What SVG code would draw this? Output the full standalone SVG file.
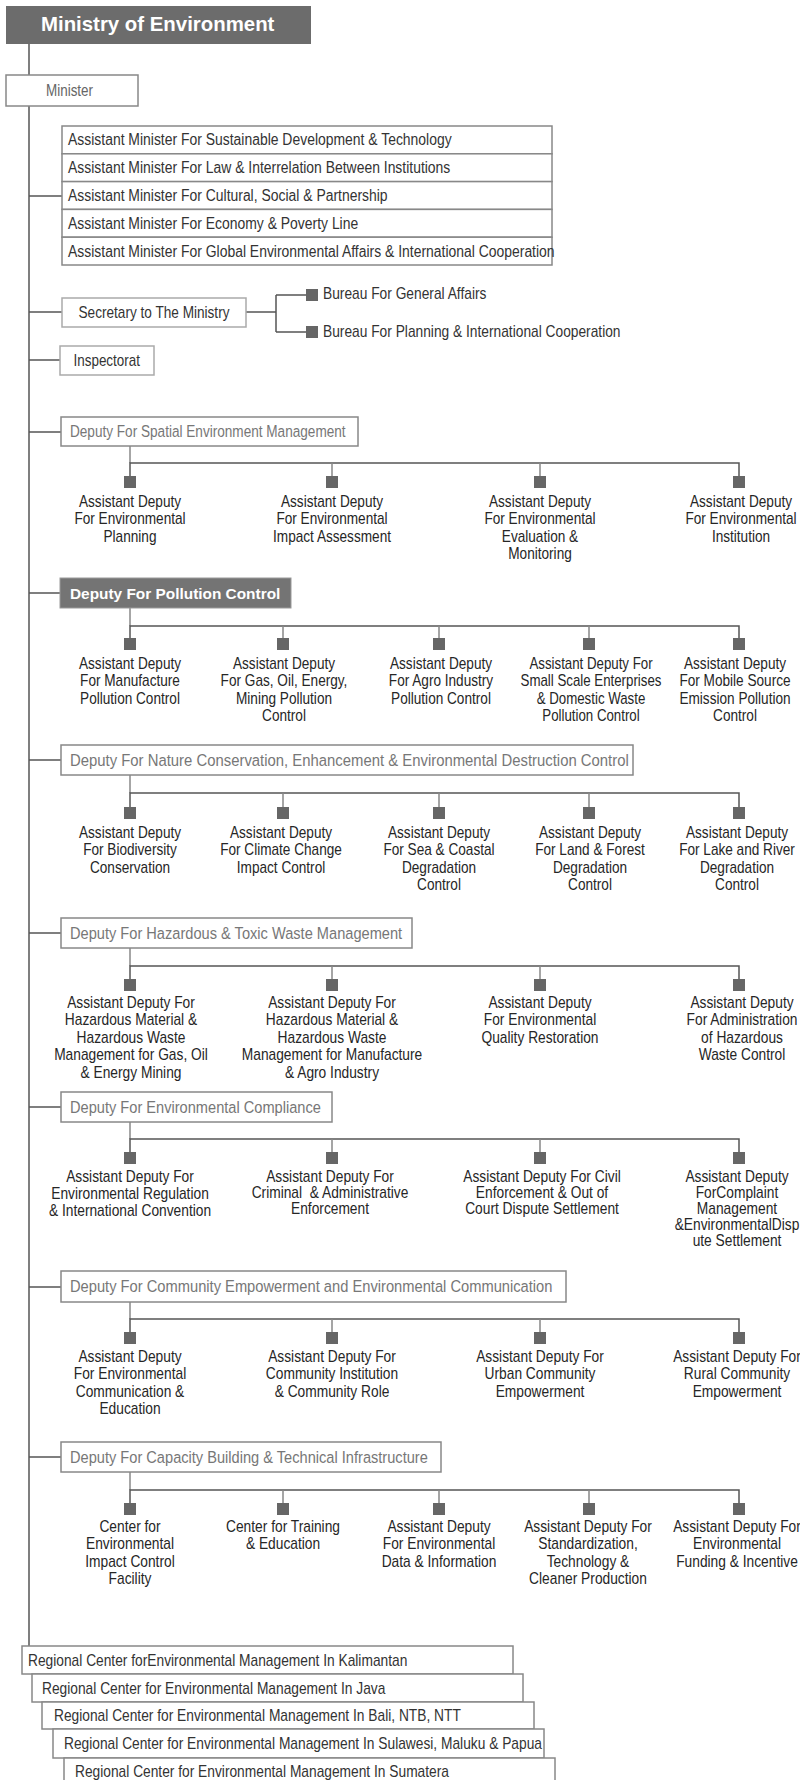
<svg xmlns="http://www.w3.org/2000/svg" width="800" height="1780" viewBox="0 0 800 1780">
<style>
text{font-family:"Liberation Sans",Arial,sans-serif;font-size:16.4px;fill:#333}
.box{fill:#fff;stroke:#888;stroke-width:1.5}
.lbox{fill:#fff;stroke:#aaa;stroke-width:1.5}
.dark{fill:#747474;stroke:#9a9a9a;stroke-width:1}
.ln{fill:none;stroke:#555;stroke-width:1.5}
.stub{fill:none;stroke:#888;stroke-width:1.5}
.sq{fill:#666}
.dep{fill:#777;font-size:17px}
.lab{text-anchor:middle;fill:#262626}
.title{font-weight:bold;font-size:20.4px;fill:#fff}
.btitle{font-weight:bold;font-size:15.4px;fill:#fff}
</style>
<defs>
<rect id="sq" x="-6" y="0" width="12" height="12" class="sq"/>
</defs>

<g id="connectors">
<path class="ln" d="M29 44V1646"/>
<path class="ln" d="M29 196H62M29 312H62M29 360H60"/>
<path class="ln" d="M246 312H276M276 295V332M276 295H306M276 332H306"/>
<path class="ln" d="M29 432H61M29 593H60M29 760H61M29 933H61M29 1107H61M29 1287H61M29 1457H61"/>
<path class="stub" d="M130 446V463"/>
<path class="ln" d="M130 476V463H739V476"/>
<path class="stub" d="M332 463V476M540 463V476"/>
<path class="stub" d="M130 608V626"/>
<path class="ln" d="M130 638V626H739V638"/>
<path class="stub" d="M283 626V638M439 626V638M589 626V638"/>
<path class="stub" d="M130 775V793"/>
<path class="ln" d="M130 807V793H739V807"/>
<path class="stub" d="M283 793V807M439 793V807M589 793V807"/>
<path class="stub" d="M130 948V966"/>
<path class="ln" d="M130 979V966H739V979"/>
<path class="stub" d="M332 966V979M540 966V979"/>
<path class="stub" d="M130 1122V1139"/>
<path class="ln" d="M130 1152V1139H739V1152"/>
<path class="stub" d="M332 1139V1152M540 1139V1152"/>
<path class="stub" d="M130 1302V1319"/>
<path class="ln" d="M130 1332V1319H739V1332"/>
<path class="stub" d="M332 1319V1332M540 1319V1332"/>
<path class="stub" d="M130 1472V1490"/>
<path class="ln" d="M130 1503V1490H739V1503"/>
<path class="stub" d="M283 1490V1503M439 1490V1503M589 1490V1503"/>
</g>

<g id="ministry">
<rect x="6" y="6" width="305" height="38" fill="#6c6c6c"/>
<text class="title" x="41" y="31">Ministry of Environment</text>
</g>

<g id="minister">
<rect class="box" x="6" y="75" width="132" height="31"/>
<text transform="translate(46 96) scale(.82 1)" style="fill:#666">Minister</text>
</g>

<g id="assistant-ministers">
<rect class="box" x="62" y="126" width="490" height="27.8"/>
<rect class="box" x="62" y="153.8" width="490" height="27.8"/>
<rect class="box" x="62" y="181.6" width="490" height="27.8"/>
<rect class="box" x="62" y="209.4" width="490" height="27.8"/>
<rect class="box" x="62" y="237.2" width="490" height="27.8"/>
<text transform="translate(68 145) scale(.85 1)">Assistant Minister For Sustainable Development &amp; Technology</text>
<text transform="translate(68 173) scale(.85 1)">Assistant Minister For Law &amp; Interrelation Between Institutions</text>
<text transform="translate(68 201) scale(.85 1)">Assistant Minister For Cultural, Social &amp; Partnership</text>
<text transform="translate(68 228.5) scale(.85 1)">Assistant Minister For Economy &amp; Poverty Line</text>
<text transform="translate(68 256.5) scale(.85 1)">Assistant Minister For Global Environmental Affairs &amp; International Cooperation</text>
</g>

<g id="secretary">
<rect class="lbox" x="62" y="298" width="184" height="29"/>
<text class="lab" transform="translate(154 318) scale(.83 1)" style="fill:#333">Secretary to The Ministry</text>
</g>
<g id="bureau-general">
<use href="#sq" x="312" y="289"/>
<text transform="translate(323 299) scale(.84 1)">Bureau For General Affairs</text>
</g>
<g id="bureau-planning">
<use href="#sq" x="312" y="326"/>
<text transform="translate(323 337) scale(.84 1)">Bureau For Planning &amp; International Cooperation</text>
</g>

<g id="inspectorat">
<rect class="lbox" x="60" y="346" width="94" height="29"/>
<text transform="translate(73.5 366) scale(.82 1)">Inspectorat</text>
</g>

<g id="deputy-spatial">
<rect class="box" x="61" y="417" width="297" height="29"/>
<text class="dep" transform="translate(70 437) scale(.8 1)">Deputy For Spatial Environment Management</text>
</g>
<g id="ad-planning"><use href="#sq" x="130" y="476"/><text class="lab" transform="translate(130 507) scale(.83 1)"><tspan x="0">Assistant Deputy</tspan><tspan x="0" dy="17.3">For Environmental</tspan><tspan x="0" dy="17.3">Planning</tspan></text></g>
<g id="ad-impact"><use href="#sq" x="332" y="476"/><text class="lab" transform="translate(332 507) scale(.83 1)"><tspan x="0">Assistant Deputy</tspan><tspan x="0" dy="17.3">For Environmental</tspan><tspan x="0" dy="17.3">Impact Assessment</tspan></text></g>
<g id="ad-evaluation"><use href="#sq" x="540" y="476"/><text class="lab" transform="translate(540 507) scale(.83 1)"><tspan x="0">Assistant Deputy</tspan><tspan x="0" dy="17.3">For Environmental</tspan><tspan x="0" dy="17.3">Evaluation &amp;</tspan><tspan x="0" dy="17.3">Monitoring</tspan></text></g>
<g id="ad-institution"><use href="#sq" x="739" y="476"/><text class="lab" transform="translate(741 507) scale(.83 1)"><tspan x="0">Assistant Deputy</tspan><tspan x="0" dy="17.3">For Environmental</tspan><tspan x="0" dy="17.3">Institution</tspan></text></g>

<g id="deputy-pollution">
<rect class="dark" x="60" y="578" width="231" height="30"/>
<text class="btitle" x="70" y="598.5">Deputy For Pollution Control</text>
</g>
<g id="ad-manufacture"><use href="#sq" x="130" y="638"/><text class="lab" transform="translate(130 669) scale(.83 1)"><tspan x="0">Assistant Deputy</tspan><tspan x="0" dy="17.3">For Manufacture</tspan><tspan x="0" dy="17.3">Pollution Control</tspan></text></g>
<g id="ad-gas"><use href="#sq" x="283" y="638"/><text class="lab" transform="translate(284 669) scale(.83 1)"><tspan x="0">Assistant Deputy</tspan><tspan x="0" dy="17.3">For Gas, Oil, Energy,</tspan><tspan x="0" dy="17.3">Mining Pollution</tspan><tspan x="0" dy="17.3">Control</tspan></text></g>
<g id="ad-agro"><use href="#sq" x="439" y="638"/><text class="lab" transform="translate(441 669) scale(.83 1)"><tspan x="0">Assistant Deputy</tspan><tspan x="0" dy="17.3">For Agro Industry</tspan><tspan x="0" dy="17.3">Pollution Control</tspan></text></g>
<g id="ad-small-scale"><use href="#sq" x="589" y="638"/><text class="lab" transform="translate(591 669) scale(.81 1)"><tspan x="0">Assistant Deputy For</tspan><tspan x="0" dy="17.3">Small Scale Enterprises</tspan><tspan x="0" dy="17.3">&amp; Domestic Waste</tspan><tspan x="0" dy="17.3">Pollution Control</tspan></text></g>
<g id="ad-mobile"><use href="#sq" x="739" y="638"/><text class="lab" transform="translate(735 669) scale(.83 1)"><tspan x="0">Assistant Deputy</tspan><tspan x="0" dy="17.3">For Mobile Source</tspan><tspan x="0" dy="17.3">Emission Pollution</tspan><tspan x="0" dy="17.3">Control</tspan></text></g>

<g id="deputy-nature">
<rect class="box" x="61" y="745" width="572" height="30"/>
<text class="dep" transform="translate(70 766) scale(.875 1)">Deputy For Nature Conservation, Enhancement &amp; Environmental Destruction Control</text>
</g>
<g id="ad-biodiversity"><use href="#sq" x="130" y="807"/><text class="lab" transform="translate(130 838) scale(.83 1)"><tspan x="0">Assistant Deputy</tspan><tspan x="0" dy="17.3">For Biodiversity</tspan><tspan x="0" dy="17.3">Conservation</tspan></text></g>
<g id="ad-climate"><use href="#sq" x="283" y="807"/><text class="lab" transform="translate(281 838) scale(.83 1)"><tspan x="0">Assistant Deputy</tspan><tspan x="0" dy="17.3">For Climate Change</tspan><tspan x="0" dy="17.3">Impact Control</tspan></text></g>
<g id="ad-sea"><use href="#sq" x="439" y="807"/><text class="lab" transform="translate(439 838) scale(.83 1)"><tspan x="0">Assistant Deputy</tspan><tspan x="0" dy="17.3">For Sea &amp; Coastal</tspan><tspan x="0" dy="17.3">Degradation</tspan><tspan x="0" dy="17.3">Control</tspan></text></g>
<g id="ad-land"><use href="#sq" x="589" y="807"/><text class="lab" transform="translate(590 838) scale(.83 1)"><tspan x="0">Assistant Deputy</tspan><tspan x="0" dy="17.3">For Land &amp; Forest</tspan><tspan x="0" dy="17.3">Degradation</tspan><tspan x="0" dy="17.3">Control</tspan></text></g>
<g id="ad-lake"><use href="#sq" x="739" y="807"/><text class="lab" transform="translate(737 838) scale(.83 1)"><tspan x="0">Assistant Deputy</tspan><tspan x="0" dy="17.3">For Lake and River</tspan><tspan x="0" dy="17.3">Degradation</tspan><tspan x="0" dy="17.3">Control</tspan></text></g>

<g id="deputy-hazardous">
<rect class="box" x="61" y="918" width="351" height="30"/>
<text class="dep" transform="translate(70 939) scale(.86 1)">Deputy For Hazardous &amp; Toxic Waste Management</text>
</g>
<g id="ad-haz-gas"><use href="#sq" x="130" y="979"/><text class="lab" transform="translate(131 1008) scale(.84 1)"><tspan x="0">Assistant Deputy For</tspan><tspan x="0" dy="17.4">Hazardous Material &amp;</tspan><tspan x="0" dy="17.4">Hazardous Waste</tspan><tspan x="0" dy="17.4">Management for Gas, Oil</tspan><tspan x="0" dy="17.4">&amp; Energy Mining</tspan></text></g>
<g id="ad-haz-manufacture"><use href="#sq" x="332" y="979"/><text class="lab" transform="translate(332 1008) scale(.84 1)"><tspan x="0">Assistant Deputy For</tspan><tspan x="0" dy="17.4">Hazardous Material &amp;</tspan><tspan x="0" dy="17.4">Hazardous Waste</tspan><tspan x="0" dy="17.4">Management for Manufacture</tspan><tspan x="0" dy="17.4">&amp; Agro Industry</tspan></text></g>
<g id="ad-quality"><use href="#sq" x="540" y="979"/><text class="lab" transform="translate(540 1008) scale(.84 1)"><tspan x="0">Assistant Deputy</tspan><tspan x="0" dy="17.4">For Environmental</tspan><tspan x="0" dy="17.4">Quality Restoration</tspan></text></g>
<g id="ad-admin-haz"><use href="#sq" x="739" y="979"/><text class="lab" transform="translate(742 1008) scale(.84 1)"><tspan x="0">Assistant Deputy</tspan><tspan x="0" dy="17.4">For Administration</tspan><tspan x="0" dy="17.4">of Hazardous</tspan><tspan x="0" dy="17.4">Waste Control</tspan></text></g>

<g id="deputy-compliance">
<rect class="box" x="61" y="1092" width="271" height="30"/>
<text class="dep" transform="translate(70 1113) scale(.86 1)">Deputy For Environmental Compliance</text>
</g>
<g id="ad-regulation"><use href="#sq" x="130" y="1152"/><text class="lab" transform="translate(130 1182) scale(.84 1)"><tspan x="0">Assistant Deputy For</tspan><tspan x="0" dy="17">Environmental Regulation</tspan><tspan x="0" dy="17">&amp; International Convention</tspan></text></g>
<g id="ad-criminal"><use href="#sq" x="332" y="1152"/><text class="lab" transform="translate(330 1182) scale(.84 1)" style="white-space:pre"><tspan x="0">Assistant Deputy For</tspan><tspan x="0" dy="16">Criminal  &amp; Administrative</tspan><tspan x="0" dy="16">Enforcement</tspan></text></g>
<g id="ad-civil"><use href="#sq" x="540" y="1152"/><text class="lab" transform="translate(542 1182) scale(.84 1)"><tspan x="0">Assistant Deputy For Civil</tspan><tspan x="0" dy="16">Enforcement &amp; Out of</tspan><tspan x="0" dy="16">Court Dispute Settlement</tspan></text></g>
<g id="ad-complaint"><use href="#sq" x="739" y="1152"/><text class="lab" transform="translate(737 1182) scale(.84 1)"><tspan x="0">Assistant Deputy</tspan><tspan x="0" dy="16">ForComplaint</tspan><tspan x="0" dy="16">Management</tspan><tspan x="0" dy="16">&amp;EnvironmentalDisp</tspan><tspan x="0" dy="16">ute Settlement</tspan></text></g>

<g id="deputy-community">
<rect class="box" x="61" y="1271" width="505" height="31"/>
<text class="dep" transform="translate(70 1292) scale(.865 1)">Deputy For Community Empowerment and Environmental Communication</text>
</g>
<g id="ad-communication"><use href="#sq" x="130" y="1332"/><text class="lab" transform="translate(130 1362) scale(.84 1)"><tspan x="0">Assistant Deputy</tspan><tspan x="0" dy="17.3">For Environmental</tspan><tspan x="0" dy="17.3">Communication &amp;</tspan><tspan x="0" dy="17.3">Education</tspan></text></g>
<g id="ad-community-inst"><use href="#sq" x="332" y="1332"/><text class="lab" transform="translate(332 1362) scale(.84 1)"><tspan x="0">Assistant Deputy For</tspan><tspan x="0" dy="17.3">Community Institution</tspan><tspan x="0" dy="17.3">&amp; Community Role</tspan></text></g>
<g id="ad-urban"><use href="#sq" x="540" y="1332"/><text class="lab" transform="translate(540 1362) scale(.84 1)"><tspan x="0">Assistant Deputy For</tspan><tspan x="0" dy="17.3">Urban Community</tspan><tspan x="0" dy="17.3">Empowerment</tspan></text></g>
<g id="ad-rural"><use href="#sq" x="739" y="1332"/><text class="lab" transform="translate(737 1362) scale(.84 1)"><tspan x="0">Assistant Deputy For</tspan><tspan x="0" dy="17.3">Rural Community</tspan><tspan x="0" dy="17.3">Empowerment</tspan></text></g>

<g id="deputy-capacity">
<rect class="box" x="61" y="1442" width="380" height="30"/>
<text class="dep" transform="translate(70 1463) scale(.86 1)">Deputy For Capacity Building &amp; Technical Infrastructure</text>
</g>
<g id="center-impact"><use href="#sq" x="130" y="1503"/><text class="lab" transform="translate(130 1532) scale(.84 1)"><tspan x="0">Center for</tspan><tspan x="0" dy="17.3">Environmental</tspan><tspan x="0" dy="17.3">Impact Control</tspan><tspan x="0" dy="17.3">Facility</tspan></text></g>
<g id="center-training"><use href="#sq" x="283" y="1503"/><text class="lab" transform="translate(283 1532) scale(.84 1)"><tspan x="0">Center for Training</tspan><tspan x="0" dy="17.3">&amp; Education</tspan></text></g>
<g id="ad-data"><use href="#sq" x="439" y="1503"/><text class="lab" transform="translate(439 1532) scale(.84 1)"><tspan x="0">Assistant Deputy</tspan><tspan x="0" dy="17.3">For Environmental</tspan><tspan x="0" dy="17.3">Data &amp; Information</tspan></text></g>
<g id="ad-standardization"><use href="#sq" x="589" y="1503"/><text class="lab" transform="translate(588 1532) scale(.84 1)"><tspan x="0">Assistant Deputy For</tspan><tspan x="0" dy="17.3">Standardization,</tspan><tspan x="0" dy="17.3">Technology &amp;</tspan><tspan x="0" dy="17.3">Cleaner Production</tspan></text></g>
<g id="ad-funding"><use href="#sq" x="739" y="1503"/><text class="lab" transform="translate(737 1532) scale(.84 1)"><tspan x="0">Assistant Deputy For</tspan><tspan x="0" dy="17.3">Environmental</tspan><tspan x="0" dy="17.3">Funding &amp; Incentive</tspan></text></g>

<g id="rc-kalimantan"><rect class="box" x="22" y="1646" width="491" height="28"/><text transform="translate(28 1666) scale(.84 1)">Regional Center forEnvironmental Management In Kalimantan</text></g>
<g id="rc-java"><rect class="box" x="32" y="1674" width="491" height="28"/><text transform="translate(42 1694) scale(.84 1)">Regional Center for Environmental Management In Java</text></g>
<g id="rc-bali"><rect class="box" x="42" y="1702" width="492" height="27"/><text transform="translate(54 1721) scale(.84 1)">Regional Center for Environmental Management In Bali, NTB, NTT</text></g>
<g id="rc-sulawesi"><rect class="box" x="53" y="1729" width="491" height="29"/><text transform="translate(64 1749) scale(.84 1)">Regional Center for Environmental Management In Sulawesi, Maluku &amp; Papua</text></g>
<g id="rc-sumatera"><rect class="box" x="64" y="1758" width="491" height="28"/><text transform="translate(75 1777) scale(.84 1)">Regional Center for Environmental Management In Sumatera</text></g>
</svg>
